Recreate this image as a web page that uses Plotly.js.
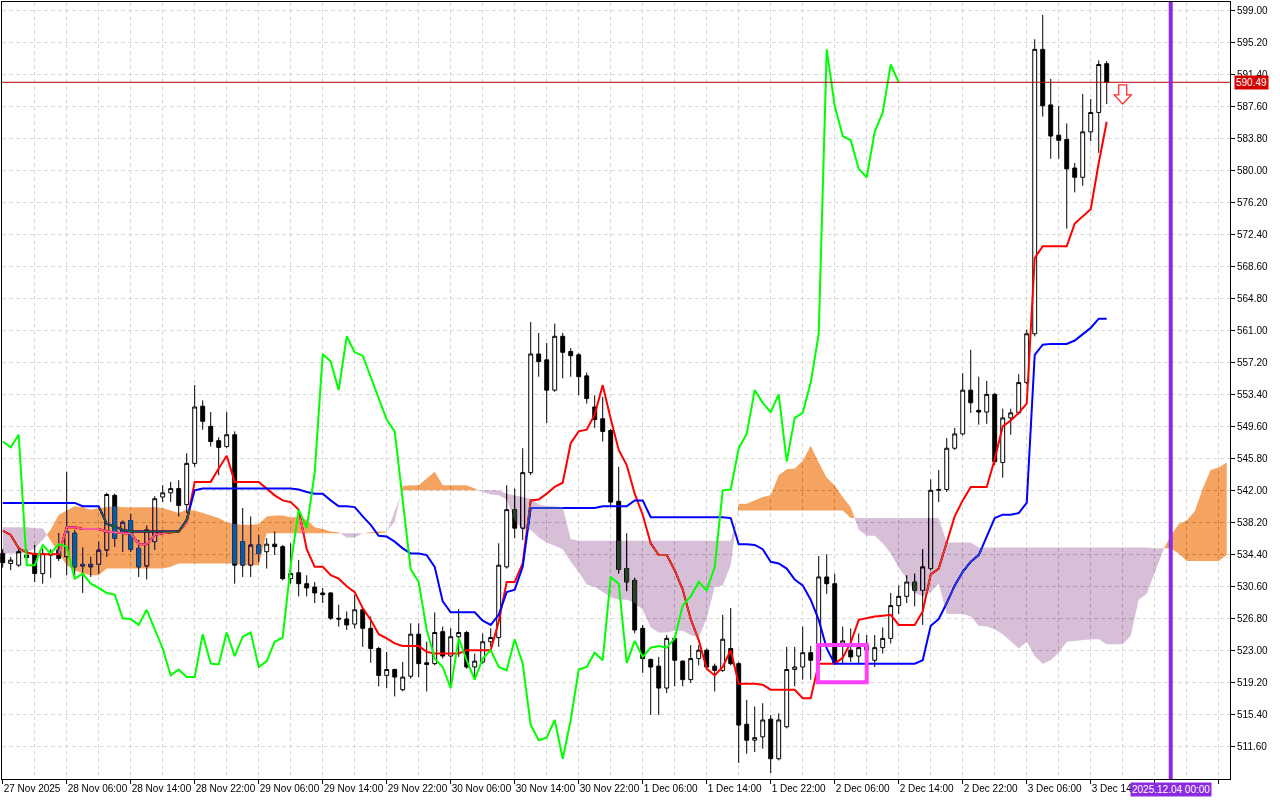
<!DOCTYPE html>
<html>
<head>
<meta charset="utf-8">
<script src="https://cdn.plot.ly/plotly-3.0.1.min.js"></script>
<style>
html,body{margin:0;padding:0;background:#ffffff;}
#chart{width:1280px;height:800px;}
/* Ichimoku cloud is painted like the terminal does: inverted colour over what lies beneath */
.js-fill{mix-blend-mode:difference;}
</style>
</head>
<body>
<div id="chart"></div>
<script>
// ---------------- data (H1 bars, 27 Nov 2025 22:00 -> 3 Dec 2025 16:00) ----------------
const opens = [534.5,533.3,533.1,534.3,534.5,532.1,534.5,534.9,534.1,536.9,
 533.0,532.9,533.2,534.9,541.4,537.1,538.4,535.1,533.0,535.9,
 541.2,541.7,542.2,540.3,545.2,552.0,549.6,547.9,547.2,548.6,
 535.9,533.1,535.5,534.7,535.6,535.3,531.5,532.2,530.9,530.5,
 529.8,529.8,526.8,526.7,526.1,527.8,525.6,523.2,520.0,520.7,
 518.3,519.9,524.9,521.5,521.4,525.2,522.3,524.6,525.1,521.0,
 521.6,524.0,524.5,532.9,539.7,537.5,544.1,558.2,557.5,553.9,
 560.3,558.5,558.1,555.6,551.9,550.5,549.1,540.7,532.7,531.3,
 525.6,521.9,521.1,518.5,524.4,521.7,519.5,522.0,523.0,521.1,
 520.6,523.2,521.4,514.2,512.3,512.7,514.8,510.1,513.9,520.7,
 521.0,522.7,521.8,531.7,530.9,523.8,523.0,522.3,523.0,521.8,
 523.3,524.4,528.3,529.4,531.1,530.1,532.7,542.0,542.1,547.0,
 548.7,553.9,551.5,551.3,553.4,545.3,550.6,551.2,554.8,560.6,
 594.4,587.8,584.2,583.7,580.3,579.2,584.6,586.9,592.7];
const highs = [535.0,534.1,535.3,535.0,535.5,535.1,535.0,536.9,544.2,537.3,
 535.2,534.1,535.9,541.7,541.6,538.4,539.2,536.1,537.8,541.3,
 542.6,543.0,543.2,546.4,554.5,552.7,551.3,548.3,551.3,549.0,
 539.9,538.9,536.7,536.3,537.1,535.5,535.7,533.7,531.9,531.1,
 530.4,529.9,528.4,527.6,529.6,528.0,527.0,523.4,522.8,520.8,
 521.6,526.2,526.2,524.0,527.5,525.8,525.6,527.9,525.3,522.6,
 525.0,525.6,535.7,542.6,542.2,547.0,562.0,560.7,559.5,561.8,
 560.7,558.9,558.3,556.0,553.3,553.1,549.3,544.8,536.9,531.6,
 526.0,522.0,522.2,524.8,524.6,521.8,523.6,523.6,523.2,521.4,
 527.2,528.0,521.6,517.1,516.3,516.7,515.3,515.5,523.4,523.4,
 525.8,523.5,534.2,534.4,532.1,525.8,525.6,525.0,524.8,524.8,
 525.7,529.8,530.7,531.9,532.1,535.0,543.3,544.4,548.2,549.4,
 555.9,558.7,555.5,555.0,553.6,551.7,551.7,555.8,561.1,595.6,
 598.5,590.9,587.7,585.6,580.9,589.1,588.5,593.1,593.0];
const lows = [532.8,532.5,532.9,533.0,531.1,530.9,531.6,533.6,531.9,531.6,
 529.8,531.7,532.1,534.1,535.3,534.7,534.7,531.7,531.4,534.9,
 540.6,540.6,538.9,539.3,544.8,549.2,547.2,543.8,547.0,530.9,
 531.7,531.7,533.5,532.7,534.3,531.3,530.9,529.4,529.4,528.6,
 528.6,526.6,525.8,525.4,525.6,523.4,521.5,518.7,518.5,517.5,
 518.1,519.6,519.8,518.1,521.2,522.0,518.5,522.2,520.8,519.8,
 521.4,523.4,523.4,532.7,536.3,536.1,543.8,555.5,550.0,553.7,
 555.3,555.5,553.3,552.3,549.4,547.8,540.0,532.1,530.0,525.0,
 520.3,515.3,515.3,517.9,518.7,518.7,519.1,521.2,520.8,518.1,
 520.4,521.2,509.6,510.7,510.9,511.3,508.4,509.9,513.7,518.7,
 519.5,519.5,521.5,529.7,521.3,521.4,521.6,521.4,522.0,521.0,
 522.6,523.8,527.3,528.6,528.2,526.0,532.5,540.6,541.8,546.8,
 548.5,551.2,549.8,549.9,545.0,543.5,548.6,551.0,554.6,560.3,
 586.4,581.4,581.4,573.1,577.4,578.2,583.5,582.1,587.9];
const closes = [533.4,533.7,534.7,534.0,532.1,534.5,534.3,533.9,537.1,532.9,
 533.2,533.2,534.9,541.5,536.3,538.2,535.0,532.9,537.3,541.0,
 541.7,542.2,540.2,545.2,551.9,550.2,547.8,547.1,548.6,533.1,
 533.1,535.5,534.5,535.6,535.3,531.5,532.1,530.9,530.4,529.8,
 529.6,526.8,526.7,526.0,527.8,525.6,523.2,520.0,520.7,519.8,
 519.8,524.9,521.4,521.3,525.1,522.3,524.6,525.1,521.0,521.7,
 524.0,524.5,533.1,539.7,537.5,544.1,558.2,557.3,553.9,560.3,
 558.4,558.0,555.5,552.9,550.4,549.0,540.6,532.6,531.1,525.4,
 522.0,521.0,518.5,524.4,521.8,519.5,522.0,523.0,521.0,520.6,
 524.3,521.4,514.1,512.3,512.6,514.7,510.1,514.7,520.7,521.0,
 522.7,521.8,531.7,530.9,521.5,524.1,522.2,523.3,523.5,523.3,
 524.4,528.3,529.4,531.1,530.1,532.9,542.0,542.1,547.0,548.7,
 553.9,552.4,551.3,553.4,545.4,550.6,551.2,554.8,560.6,594.4,
 587.7,584.1,583.6,580.2,579.2,584.6,586.9,592.6,590.49];
const tenkan = [537.2,536.7,535.1,534.6,534.4,534.4,534.4,534.4,537.6,537.6,
 537.4,537.4,537.4,537.1,537.0,536.9,536.9,535.6,535.6,536.7,
 536.9,537.0,537.1,538.2,543.0,543.0,543.0,544.6,546.1,543.0,
 543.0,543.0,543.0,542.2,541.4,540.8,540.6,539.7,535.0,532.9,
 532.9,531.9,531.5,530.6,529.9,528.0,526.6,524.9,524.4,523.8,
 523.5,523.5,523.5,522.8,522.6,522.6,522.6,522.6,523.0,523.0,
 523.0,523.0,526.4,531.1,531.1,533.3,540.8,540.9,541.6,542.4,
 542.9,547.6,549.0,549.2,551.0,554.5,550.5,546.8,545.0,541.6,
 539.1,535.7,534.3,534.3,532.5,530.2,526.7,524.2,520.8,520.0,
 521.0,523.0,519.0,519.0,519.0,518.9,518.3,518.3,518.3,518.3,
 517.3,517.3,521.4,521.4,521.4,522.1,523.9,526.6,526.8,527.0,
 527.1,527.2,526.0,526.0,526.0,527.6,532.0,532.7,535.7,538.9,
 540.8,542.4,542.4,542.4,545.7,549.6,550.3,551.2,552.3,569.6,
 571.0,571.0,571.0,571.0,573.7,574.6,575.4,580.9,585.8];
const kijun = [540.5,540.5,540.5,540.5,540.5,540.5,540.5,540.5,540.5,540.5,
 540.1,540.1,540.1,538.0,537.7,537.3,537.1,537.1,537.1,537.1,
 537.1,537.1,537.1,538.5,542.0,542.2,542.2,542.2,542.2,542.2,
 542.2,542.2,542.2,542.2,542.2,542.2,542.2,542.1,541.8,541.6,
 541.6,540.8,540.1,540.1,540.0,538.9,537.9,536.6,536.5,535.9,
 535.1,534.5,534.5,534.3,532.9,528.8,527.5,527.5,527.5,527.5,
 526.5,526.0,527.2,529.9,530.2,532.9,539.9,539.9,539.9,539.9,
 539.9,539.9,539.9,539.9,539.9,540.1,540.1,540.1,540.1,540.8,
 540.8,538.8,538.8,538.8,538.8,538.8,538.8,538.8,538.8,538.8,
 538.8,538.7,535.6,535.6,535.5,535.0,533.5,533.3,532.7,531.4,
 530.7,529.0,526.6,523.2,521.4,521.4,521.4,521.4,521.4,521.4,
 521.4,521.4,521.4,521.4,521.4,521.8,525.9,526.7,528.6,530.7,
 532.3,533.5,534.3,536.5,538.7,539.1,539.1,539.3,540.5,558.1,
 559.3,559.4,559.4,559.4,559.8,560.5,561.3,562.4,562.4];
// Senkou spans, already plotted 26 bars ahead (bars 0..153)
const senkouA = [534.5,534.5,534.5,534.6,535.1,536.1,537.3,539.1,539.6,540.1,
 540.0,539.7,539.9,540.0,540.1,540.0,540.0,540.0,540.0,540.0,
 539.9,539.6,539.3,539.7,539.6,539.3,539.0,538.7,538.2,538.0,
 537.9,537.9,538.0,538.9,539.0,539.0,538.8,538.8,538.5,537.6,
 537.4,537.1,537.0,536.4,536.4,536.9,537.0,537.1,537.1,538.3,
 542.5,542.6,542.6,543.4,544.2,542.6,542.6,542.6,542.6,542.2,
 541.8,541.5,541.4,540.9,538.4,537.3,537.3,536.4,535.8,535.4,
 535.0,533.5,532.3,530.8,530.5,529.9,529.3,529.0,529.0,528.6,
 527.8,525.7,525.1,525.1,525.3,525.3,524.8,524.5,526.8,530.5,
 530.7,533.1,540.4,540.4,540.8,541.2,541.4,543.8,544.5,544.6,
 545.5,547.3,545.3,543.5,542.6,541.2,540.0,537.3,536.6,536.6,
 535.7,534.5,532.8,531.5,529.8,529.4,529.9,530.9,527.3,527.3,
 527.3,527.0,525.9,525.8,525.5,524.9,524.0,523.2,524.0,522.3,
 521.4,521.8,522.7,524.0,524.1,524.2,524.3,524.3,523.7,523.7,
 523.7,524.7,529.0,529.7,532.2,534.8,536.6,538.0,538.4,539.5,
 542.2,544.4,544.7,545.3];
const senkouB = [537.6,537.6,537.6,537.6,537.5,537.5,536.0,534.5,533.1,532.5,
 532.1,531.9,531.9,532.7,532.7,532.7,532.7,532.7,532.7,532.7,
 532.7,532.9,533.3,533.3,533.3,533.3,533.3,533.3,533.3,533.3,
 533.1,533.1,533.1,536.9,536.9,536.9,536.9,536.9,536.9,536.9,
 536.9,536.9,536.9,536.9,536.9,536.9,536.9,536.9,537.0,539.5,
 542.0,542.0,542.0,542.0,542.0,542.0,542.0,542.0,542.0,542.0,
 542.0,542.0,542.0,541.6,541.4,541.2,541.0,540.3,540.1,540.1,
 540.0,536.2,536.0,536.0,536.0,536.0,536.0,536.0,536.0,536.0,
 536.0,536.0,536.0,536.0,536.0,536.0,536.0,536.0,536.0,536.0,
 536.0,536.0,539.6,539.6,539.6,539.6,539.6,539.6,539.6,539.6,
 539.6,539.6,539.6,539.6,539.6,539.6,538.7,538.7,538.7,538.7,
 538.7,538.7,538.7,538.7,538.7,538.7,538.7,538.7,535.8,535.8,
 535.8,535.8,535.2,535.2,535.2,535.2,535.2,535.2,535.2,535.2,
 535.2,535.2,535.2,535.2,535.2,535.2,535.2,535.2,535.2,535.2,
 535.2,535.2,535.2,535.2,535.1,535.1,535.1,534.5,533.6,533.6,
 533.6,533.6,533.6,534.3];
const CHIKOU_SHIFT = 26;          // lagging span = close plotted 26 bars back
const xTickLabels = ["27 Nov 2025","28 Nov 06:00","28 Nov 14:00","28 Nov 22:00","29 Nov 06:00",
 "29 Nov 14:00","29 Nov 22:00","30 Nov 06:00","30 Nov 14:00","30 Nov 22:00","1 Dec 06:00",
 "1 Dec 14:00","1 Dec 22:00","2 Dec 06:00","2 Dec 14:00","2 Dec 22:00","3 Dec 06:00","3 Dec 14:00","",""];
const priceTicks = [511.6,515.4,519.2,523.0,526.8,530.6,534.4,538.2,542.0,545.8,549.6,553.4,
 557.2,561.0,564.8,568.6,572.4,576.2,580.0,583.8,587.6,591.4,595.2,599.0];
const lastPrice = 590.49;
const separatorBar = 146;         // 2025.12.04 00:00
const separatorText = "2025.12.04 00:00";

// ---------------- build traces ----------------
const idx = closes.map((_, i) => i);
const chikou = closes.slice(CHIKOU_SHIFT);
const chikouX = chikou.map((_, i) => i);

// cloud outline with the A/B crossings inserted so both colours meet exactly
const cx = [], ca = [], cb = [];
for (let i = 0; i < senkouA.length; i++) {
  cx.push(i); ca.push(senkouA[i]); cb.push(senkouB[i]);
  if (i < senkouA.length - 1) {
    const d0 = senkouA[i] - senkouB[i], d1 = senkouA[i + 1] - senkouB[i + 1];
    if (d0 * d1 < 0) {
      const t = d0 / (d0 - d1);
      const v = senkouA[i] + t * (senkouA[i + 1] - senkouA[i]);
      cx.push(i + t); ca.push(v); cb.push(v);
    }
  }
}
const cTop = ca.map((a, k) => Math.max(a, cb[k]));

const lineBase = {type: 'scatter', mode: 'lines', hoverinfo: 'skip', cliponaxis: false, showlegend: false};
const traces = [
  {type: 'candlestick', x: idx, open: opens, high: highs, low: lows, close: closes,
   increasing: {line: {color: '#000000', width: 1}, fillcolor: '#ffffff'},
   decreasing: {line: {color: '#000000', width: 1}, fillcolor: '#000000'},
   whiskerwidth: 0, hoverinfo: 'skip', showlegend: false},
  Object.assign({}, lineBase, {x: idx, y: tenkan, line: {color: '#ff0000', width: 2}}),
  Object.assign({}, lineBase, {x: idx, y: kijun, line: {color: '#0000ff', width: 2}}),
  // thistle part (B above A) : colour given inverted, painted with difference blend
  Object.assign({}, lineBase, {x: cx, y: ca, line: {width: 0, color: 'rgba(0,0,0,0)'}}),
  Object.assign({}, lineBase, {x: cx, y: cTop, fill: 'tonexty', fillcolor: '#274027', line: {width: 0, color: 'rgba(0,0,0,0)'}}),
  // sandy-brown part (A above B)
  Object.assign({}, lineBase, {x: cx, y: cb, line: {width: 0, color: 'rgba(0,0,0,0)'}}),
  Object.assign({}, lineBase, {x: cx, y: cTop, fill: 'tonexty', fillcolor: '#0b5b9f', line: {width: 0, color: 'rgba(0,0,0,0)'}}),
  Object.assign({}, lineBase, {x: chikouX, y: chikou, line: {color: '#00ff00', width: 2}})
];

// ---------------- layout ----------------
const majorX = xTickLabels.map((_, k) => k * 8);
const minorX = xTickLabels.map((_, k) => k * 8 + 4);
const gridCol = '#d9d9d9';
const fontFam = '"Liberation Sans", Arial, sans-serif';

const layout = {
  width: 1280, height: 800,
  margin: {l: 2, r: 50, t: 2, b: 21, pad: 0},
  paper_bgcolor: '#ffffff', plot_bgcolor: '#ffffff',
  showlegend: false, hovermode: false, dragmode: false,
  font: {family: fontFam, size: 10, color: '#000000'},
  xaxis: {
    type: 'linear', range: [-0.0875, 153.41], fixedrange: true,
    tickmode: 'array', tickvals: majorX, ticktext: xTickLabels, tickangle: 0,
    ticks: 'outside', ticklen: 4, tickwidth: 1, tickcolor: '#000000',
    ticklabelposition: 'outside right',
    tickfont: {family: fontFam, size: 10, color: '#000000'},
    showgrid: true, gridcolor: gridCol, gridwidth: 1, griddash: '4px,3px',
    minor: {tickmode: 'array', tickvals: minorX, showgrid: true, gridcolor: gridCol, gridwidth: 1, griddash: '4px,3px', ticks: ''},
    showline: true, linecolor: '#000000', linewidth: 1, mirror: true,
    zeroline: false, rangeslider: {visible: false}
  },
  yaxis: {
    side: 'right', range: [507.69, 600.03], fixedrange: true,
    tickmode: 'array', tickvals: priceTicks, ticktext: priceTicks.map(v => v.toFixed(2)),
    ticks: 'outside', ticklen: 4, tickwidth: 1, tickcolor: '#000000',
    tickfont: {family: fontFam, size: 10, color: '#000000'},
    showgrid: true, gridcolor: gridCol, gridwidth: 1, griddash: '4px,3px',
    showline: true, linecolor: '#000000', linewidth: 1, mirror: true,
    zeroline: false
  },
  shapes: [
    {type: 'line', xref: 'paper', x0: 0, x1: 1, yref: 'y', y0: lastPrice, y1: lastPrice,
     line: {color: '#b00000', width: 1}},
    {type: 'line', xref: 'x', x0: separatorBar, x1: separatorBar, yref: 'paper', y0: 0, y1: 1,
     line: {color: '#8a2be2', width: 4}},
    {type: 'rect', xref: 'x', x0: 101.9, x1: 108.0, yref: 'y', y0: 519.2, y1: 523.6,
     line: {color: '#ff40ff', width: 4}, fillcolor: 'rgba(0,0,0,0)'},
    {type: 'path', xref: 'x', yref: 'y', xsizemode: 'pixel', ysizemode: 'pixel',
     xanchor: 140, yanchor: 590.17,
     path: 'M -4 0 L 4 0 L 4 -10 L 8.5 -10 L 0 -19 L -8.5 -10 L -4 -10 Z',
     fillcolor: '#ffffff', line: {color: '#ff2a2a', width: 1.3}}
  ],
  annotations: [
    {xref: 'paper', x: 1, xanchor: 'left', xshift: 4, yref: 'y', y: lastPrice, yanchor: 'middle',
     text: lastPrice.toFixed(2), showarrow: false, bgcolor: '#d40000', borderpad: 1,
     font: {family: fontFam, size: 10, color: '#ffffff'}},
    {xref: 'x', x: separatorBar, xanchor: 'center', yref: 'paper', y: 0, yanchor: 'top', yshift: -3,
     text: separatorText, showarrow: false, bgcolor: '#8a2be2', borderpad: 1,
     font: {family: fontFam, size: 10, color: '#ffffff'}}
  ]
};

// remove any grouping (clip-path) that would isolate the cloud from what is painted under it
function freeCloudBlend(gd) {
  gd.querySelectorAll('.js-fill').forEach(function (el) {
    el.style.mixBlendMode = 'difference';
    el.removeAttribute('clip-path');
    var n = el.parentNode;
    while (n && n.nodeName && n.nodeName.toLowerCase() !== 'svg') {
      if (n.removeAttribute) n.removeAttribute('clip-path');
      if (n.style) { n.style.clipPath = 'none'; n.style.isolation = 'auto'; }
      n = n.parentNode;
    }
  });
}

Plotly.newPlot('chart', traces, layout, {displayModeBar: false, responsive: false})
  .then(freeCloudBlend);
</script>
</body>
</html>
